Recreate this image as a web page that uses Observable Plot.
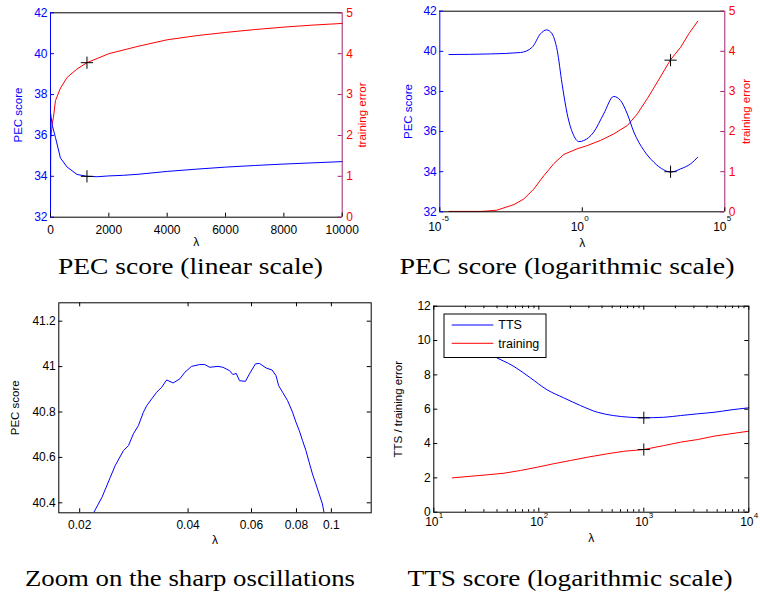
<!DOCTYPE html>
<html><head><meta charset="utf-8">
<script src="https://cdn.jsdelivr.net/npm/d3@7"></script>
<script src="https://cdn.jsdelivr.net/npm/@observablehq/plot@0.6"></script>
<style>
body{margin:0;background:#fff;}
#wrap{position:relative;width:760px;height:593px;overflow:hidden;}
</style></head><body><div id="wrap"></div>
<script>
// ---------------- data ----------------
// Panel 1: PEC score, linear lambda
const linLambdaPEC = [0, 60, 170, 340, 570, 910, 1250, 1600, 2000, 2500, 3000, 4000, 5000, 6000, 7000, 8000, 9000, 10000];
const linPEC       = [37.1, 36.5, 35.9, 34.9, 34.45, 34.09, 34.0, 33.98, 34.02, 34.05, 34.1, 34.24, 34.35, 34.45, 34.53, 34.6, 34.66, 34.72];
const linLambdaErr = [0, 10, 57, 100, 170, 343, 571, 900, 1250, 2000, 3000, 4000, 5000, 6000, 7000, 8000, 9000, 10000];
const linErr       = [0, 1.9, 2.28, 2.44, 2.85, 3.16, 3.42, 3.62, 3.78, 4.0, 4.18, 4.34, 4.44, 4.52, 4.59, 4.65, 4.7, 4.74];
const linXTicks = [0, 2000, 4000, 6000, 8000, 10000];

// Panel 2: PEC score, log lambda
const logLambdaPEC = [2.1e-5, 6.0e-4, 6.8e-3, 0.0174, 0.0339, 0.0562, 0.0871, 0.132, 0.195, 0.295, 0.501, 0.759, 1.12, 2.51, 5.62, 12.6, 21.9, 38, 64.6, 145, 324, 724, 1250, 2818, 6310, 11220];
const logPEC       = [39.84, 39.87, 39.94, 40.2, 40.87, 41.07, 40.87, 40.04, 38.38, 36.88, 35.8, 35.5, 35.55, 35.97, 36.88, 37.75, 37.55, 36.88, 35.97, 35.06, 34.47, 34.09, 33.98, 34.14, 34.39, 34.72];
const logLambdaErr = [2.1e-5, 3e-4, 1.0e-3, 4.0e-3, 8.9e-3, 0.02, 0.0447, 0.1, 0.224, 0.661, 1.48, 4.37, 12.6, 38, 85.1, 190.5, 426.6, 1250, 2818, 5495, 11220];
const logErr       = [0.01, 0.01, 0.04, 0.18, 0.32, 0.57, 0.9, 1.2, 1.43, 1.57, 1.65, 1.78, 1.94, 2.15, 2.44, 2.82, 3.23, 3.79, 4.1, 4.44, 4.75];
const logXTicks = [1e-5, 1, 1e5];
const logXExp   = ["-5", "0", "5"];

// Best lambda markers
const bestLambda = 1250;
const bestPEC = 34.0;
const bestErr = 3.78;

// Shared PEC / training error axes
const pecDomain = [32, 42];
const pecTicks = [32, 34, 36, 38, 40, 42];
const errDomain = [0, 5];
const errTicks = [0, 1, 2, 3, 4, 5];

// Panel 3: zoom on oscillations
const zoomLambda = [0.02186, 0.02306, 0.02432, 0.0251, 0.02646, 0.02732, 0.0282, 0.02911, 0.03006, 0.03071, 0.0317, 0.03272, 0.03378, 0.03488, 0.03636, 0.03795, 0.03918, 0.0409, 0.0431, 0.0445, 0.04592, 0.04842, 0.04998, 0.05216, 0.05326, 0.05442, 0.05558, 0.05774, 0.05924, 0.06154, 0.06312, 0.06588, 0.06844, 0.0702, 0.07138, 0.0732, 0.07558, 0.07802, 0.07974, 0.08144, 0.08316, 0.08498, 0.08678, 0.08862, 0.09056, 0.09248, 0.09442, 0.09544];
const zoomPEC    = [40.356, 40.424, 40.512, 40.564, 40.63, 40.652, 40.704, 40.74, 40.799, 40.828, 40.858, 40.887, 40.909, 40.941, 40.928, 40.946, 40.975, 41.001, 41.009, 41.009, 40.997, 41.001, 40.997, 40.982, 40.965, 40.97, 40.938, 40.935, 40.968, 41.012, 41.014, 40.994, 40.985, 40.96, 40.916, 40.887, 40.85, 40.799, 40.755, 40.718, 40.674, 40.63, 40.578, 40.527, 40.483, 40.439, 40.395, 40.356];
const zoomXDomain = [0.0175, 0.129];
const zoomYDomain = [40.356, 41.281];
const zoomXTicks = [0.02, 0.04, 0.06, 0.08, 0.1];
const zoomYTicks = [40.4, 40.6, 40.8, 41, 41.2];

// Panel 4: TTS score
const ttsLambda = [15, 25, 36, 58, 83, 120, 173, 250, 363, 513, 741, 1000, 1549, 2239, 3236, 4677, 6761, 10000];
const ttsScore  = [10.5, 9.7, 9.13, 8.49, 7.83, 7.13, 6.66, 6.21, 5.82, 5.63, 5.53, 5.5, 5.53, 5.63, 5.73, 5.82, 5.96, 6.08];
const trLambda  = [15, 27.5, 46.5, 66.8, 96.4, 138, 200, 288, 447, 646, 1000, 1549, 2239, 3236, 4677, 6761, 10000];
const trError   = [2.0, 2.14, 2.27, 2.43, 2.62, 2.82, 3.01, 3.2, 3.4, 3.55, 3.65, 3.88, 4.08, 4.23, 4.43, 4.57, 4.72];
const ttsBestLambda = 1000;
const ttsBest = 5.5;
const trBest = 3.65;
const ttsXTicks = [10, 100, 1000, 10000];
const ttsXExp = ["1", "2", "3", "4"];
const ttsYTicks = [0, 2, 4, 6, 8, 10, 12];
const legendNames = ["TTS", "training"];

const captions = ["PEC score (linear scale)", "PEC score (logarithmic scale)", "Zoom on the sharp oscillations", "TTS score (logarithmic scale)"];

// ---------------- drawing ----------------
const blue = "#0000ff", red = "#ff0000", purple = "#a0206e";
const wrap = document.getElementById("wrap");
const style = {fontFamily: "'Liberation Sans', Arial, sans-serif", fontSize: "12px", background: "transparent", overflow: "visible"};
const zip = (xs, ys) => xs.map((x, i) => ({x, y: ys[i]}));
const errToPec = e => pecDomain[0] + (e - errDomain[0]) * (pecDomain[1] - pecDomain[0]) / (errDomain[1] - errDomain[0]);
const pecToErr = p => errDomain[0] + (p - pecDomain[0]) * (errDomain[1] - errDomain[0]) / (pecDomain[1] - pecDomain[0]);
function place(el, left, top) { el.style.position = "absolute"; el.style.left = left + "px"; el.style.top = top + "px"; wrap.appendChild(el); }
const TL = 4;
const C = {textAnchor: "middle", lineAnchor: "middle"};
function minorTicks(lo, hi) { const out = []; for (let d = lo; d < hi; d *= 10) for (let k = 2; k <= 9; k++) out.push(d * k); return out; }

// Panel 1
{
  const W = 380, H = 245, mL = 50, mR = 38.3, mT = 12.3, mB = 28.3, iw = W - mL - mR, ih = H - mT - mB;
  const svg = Plot.plot({
    width: W, height: H, marginLeft: mL, marginRight: mR, marginTop: mT, marginBottom: mB, style,
    x: {type: "linear", domain: [0, 10000]},
    y: {domain: pecDomain},
    marks: [
      Plot.line(zip(linLambdaErr, linErr.map(errToPec)), {x: "x", y: "y", stroke: red, strokeWidth: 1}),
      Plot.line(zip(linLambdaPEC, linPEC), {x: "x", y: "y", stroke: blue, strokeWidth: 1}),
      Plot.dot([{x: bestLambda, y: bestPEC}, {x: bestLambda, y: errToPec(bestErr)}], {x: "x", y: "y", symbol: "plus", r: 4, stroke: "black", strokeWidth: 1}),
      Plot.ruleY([pecDomain[1]], {stroke: "black"}),
      Plot.ruleY([pecDomain[0]], {stroke: "black"}),
      Plot.ruleX([0], {stroke: blue}),
      Plot.ruleX([10000], {stroke: purple}),
      Plot.tickY(pecTicks, {y: d => d, stroke: blue, insetRight: iw - TL}),
      Plot.tickY(errTicks.map(errToPec), {y: d => d, stroke: purple, insetLeft: iw - TL}),
      Plot.tickX(linXTicks, {x: d => d, stroke: "black", insetTop: ih - TL}),
      Plot.axisY({ticks: pecTicks, anchor: "left", tickSize: 0, tickPadding: 3, label: null, color: blue, fontSize: 12}),
      Plot.axisY({ticks: errTicks.map(errToPec), anchor: "right", tickSize: 0, tickPadding: 4, label: null, color: red, fontSize: 12, tickFormat: d => String(Math.round(pecToErr(d)))}),
      Plot.axisX({ticks: linXTicks, tickSize: 0, tickPadding: 8, label: null, tickFormat: d => String(d), fontSize: 12}),
      Plot.text(["λ"], {...C, text: d => d, frameAnchor: "bottom", dy: 25.3, fontSize: 12}),
      Plot.text(["PEC score"], {...C, text: d => d, frameAnchor: "left", dx: -32, rotate: -90, fill: blue, fontSize: 11.5}),
      Plot.text(["training error"], {...C, text: d => d, frameAnchor: "right", dx: 20, rotate: -90, fill: red, fontSize: 11.5})
    ]
  });
  place(svg, 0, 0);
}

// Panel 2
{
  const W = 380, H = 245, mL = 59.3, mR = 35.7, mT = 10.7, mB = 33.7, iw = W - mL - mR, ih = H - mT - mB;
  const svg = Plot.plot({
    width: W, height: H, marginLeft: mL, marginRight: mR, marginTop: mT, marginBottom: mB, style,
    x: {type: "log", domain: [1e-5, 1e5], axis: null},
    y: {domain: pecDomain},
    marks: [
      Plot.line(zip(logLambdaErr, logErr.map(errToPec)), {x: "x", y: "y", stroke: red, strokeWidth: 1}),
      Plot.line(zip(logLambdaPEC, logPEC), {x: "x", y: "y", stroke: blue, strokeWidth: 1, curve: "monotone-x"}),
      Plot.dot([{x: bestLambda, y: bestPEC}, {x: bestLambda, y: errToPec(bestErr)}], {x: "x", y: "y", symbol: "plus", r: 4, stroke: "black", strokeWidth: 1}),
      Plot.ruleY([pecDomain[1]], {stroke: "black"}),
      Plot.ruleY([pecDomain[0]], {stroke: "black"}),
      Plot.ruleX([1e-5], {stroke: blue}),
      Plot.ruleX([1e5], {stroke: purple}),
      Plot.tickY(pecTicks, {y: d => d, stroke: blue, insetRight: iw - TL}),
      Plot.tickY(errTicks.map(errToPec), {y: d => d, stroke: purple, insetLeft: iw - TL}),
      Plot.tickX(logXTicks, {x: d => d, stroke: "black", insetTop: ih - TL}),
      Plot.axisY({ticks: pecTicks, anchor: "left", tickSize: 0, tickPadding: 3, label: null, color: blue, fontSize: 12}),
      Plot.axisY({ticks: errTicks.map(errToPec), anchor: "right", tickSize: 0, tickPadding: 4, label: null, color: red, fontSize: 12, tickFormat: d => String(Math.round(pecToErr(d)))}),
      Plot.text(logXTicks, {...C, x: d => d, text: () => "10", frameAnchor: "bottom", dy: 15.5, dx: -5, fontSize: 12}),
      Plot.text(logXTicks, {x: d => d, text: (d, i) => logXExp[i], frameAnchor: "bottom", dy: 7, dx: 2, textAnchor: "start", lineAnchor: "middle", fontSize: 8}),
      Plot.text(["λ"], {...C, text: d => d, frameAnchor: "bottom", dy: 31.7, fontSize: 12}),
      Plot.text(["PEC score"], {...C, text: d => d, frameAnchor: "left", dx: -31, rotate: -90, fill: blue, fontSize: 11.5}),
      Plot.text(["training error"], {...C, text: d => d, frameAnchor: "right", dx: 22, rotate: -90, fill: red, fontSize: 11.5})
    ]
  });
  place(svg, 380, 0);
}

// Panel 3
{
  const W = 380, H = 260, mL = 58.3, mR = 9.3, mT = 12.3, mB = 37.7, iw = W - mL - mR, ih = H - mT - mB;
  const svg = Plot.plot({
    width: W, height: H, marginLeft: mL, marginRight: mR, marginTop: mT, marginBottom: mB, style,
    x: {type: "log", domain: zoomXDomain},
    y: {domain: zoomYDomain},
    marks: [
      Plot.line(zip(zoomLambda, zoomPEC), {x: "x", y: "y", stroke: blue, strokeWidth: 1, clip: true}),
      Plot.frame({stroke: "black"}),
      Plot.tickY(zoomYTicks, {y: d => d, stroke: "black", insetRight: iw - TL}),
      Plot.tickY(zoomYTicks, {y: d => d, stroke: "black", insetLeft: iw - TL}),
      Plot.tickX(zoomXTicks, {x: d => d, stroke: "black", insetTop: ih - TL}),
      Plot.tickX(zoomXTicks, {x: d => d, stroke: "black", insetBottom: ih - TL}),
      Plot.axisY({ticks: zoomYTicks, anchor: "left", tickSize: 0, tickPadding: 3, label: null, fontSize: 12, tickFormat: d => String(d)}),
      Plot.axisX({ticks: zoomXTicks, tickSize: 0, tickPadding: 8, label: null, fontSize: 12, tickFormat: d => String(d)}),
      Plot.text(["λ"], {...C, text: d => d, frameAnchor: "bottom", dy: 27.7, fontSize: 12}),
      Plot.text(["PEC score"], {...C, text: d => d, frameAnchor: "left", dx: -43, rotate: -90, fontSize: 11.5})
    ]
  });
  place(svg, 0, 290);
}

// Panel 4
{
  const W = 380, H = 260, mL = 53.3, mR = 11.7, mT = 15.7, mB = 38.3, iw = W - mL - mR, ih = H - mT - mB;
  const minors = minorTicks(10, 10000);
  const legend = (index, scales, values, dims) => {
    const g = d3.create("svg:g");
    const x0 = dims.marginLeft + 10.7, y0 = dims.marginTop + 8.3;
    g.append("rect").attr("x", x0).attr("y", y0).attr("width", 102).attr("height", 43.5)
      .attr("fill", "white").attr("stroke", "black");
    [blue, red].forEach((c, i) => {
      const yy = y0 + 11 + i * 18.3;
      g.append("line").attr("x1", x0 + 7.7).attr("x2", x0 + 49.3).attr("y1", yy).attr("y2", yy).attr("stroke", c);
      g.append("text").attr("x", x0 + 54.3).attr("y", yy).attr("dy", "0.35em")
        .attr("text-anchor", "start").attr("font-size", 12.5).attr("fill", "black").text(legendNames[i]);
    });
    return g.node();
  };
  const svg = Plot.plot({
    width: W, height: H, marginLeft: mL, marginRight: mR, marginTop: mT, marginBottom: mB, style,
    x: {type: "log", domain: [10, 10000], axis: null},
    y: {domain: [0, 12]},
    marks: [
      Plot.line(zip(trLambda, trError), {x: "x", y: "y", stroke: red, strokeWidth: 1}),
      Plot.line(zip(ttsLambda, ttsScore), {x: "x", y: "y", stroke: blue, strokeWidth: 1, curve: "monotone-x"}),
      Plot.dot([{x: ttsBestLambda, y: ttsBest}, {x: ttsBestLambda, y: trBest}], {x: "x", y: "y", symbol: "plus", r: 4, stroke: "black", strokeWidth: 1}),
      Plot.frame({stroke: "black"}),
      Plot.tickY(ttsYTicks, {y: d => d, stroke: "black", insetRight: iw - TL}),
      Plot.tickY(ttsYTicks, {y: d => d, stroke: "black", insetLeft: iw - TL}),
      Plot.tickX(ttsXTicks, {x: d => d, stroke: "black", insetTop: ih - TL}),
      Plot.tickX(ttsXTicks, {x: d => d, stroke: "black", insetBottom: ih - TL}),
      Plot.tickX(minors, {x: d => d, stroke: "black", insetTop: ih - 2.5}),
      Plot.tickX(minors, {x: d => d, stroke: "black", insetBottom: ih - 2.5}),
      Plot.axisY({ticks: ttsYTicks, anchor: "left", tickSize: 0, tickPadding: 3, label: null, fontSize: 12}),
      Plot.text(ttsXTicks, {...C, x: d => d, text: () => "10", frameAnchor: "bottom", dy: 10, dx: -2, fontSize: 12}),
      Plot.text(ttsXTicks, {x: d => d, text: (d, i) => ttsXExp[i], frameAnchor: "bottom", dy: 3, dx: 5, textAnchor: "start", lineAnchor: "middle", fontSize: 8}),
      Plot.text(["λ"], {...C, text: d => d, frameAnchor: "bottom", dy: 26.3, fontSize: 12}),
      Plot.text(["TTS / training error"], {...C, text: d => d, frameAnchor: "left", dx: -35, rotate: -90, fontSize: 11.5}),
      legend
    ]
  });
  place(svg, 380, 290);
}

// Captions (below each chart)
const capPos = [[190.5, 266, 265], [567, 266, 335], [190, 578, 330], [570, 578, 325]];
const ns = "http://www.w3.org/2000/svg";
const capSvg = document.createElementNS(ns, "svg");
capSvg.setAttribute("width", 760); capSvg.setAttribute("height", 593);
capSvg.style.position = "absolute"; capSvg.style.left = "0px"; capSvg.style.top = "0px"; capSvg.style.pointerEvents = "none";
captions.forEach((t, i) => {
  const tx = document.createElementNS(ns, "text");
  tx.setAttribute("x", capPos[i][0] - capPos[i][2] / 2);
  tx.setAttribute("y", capPos[i][1]);
  tx.setAttribute("dy", "0.35em");
  tx.setAttribute("textLength", capPos[i][2]);
  tx.setAttribute("lengthAdjust", "spacingAndGlyphs");
  tx.setAttribute("font-family", "'Liberation Serif', 'Times New Roman', serif");
  tx.setAttribute("font-size", "23");
  tx.textContent = t;
  capSvg.appendChild(tx);
});
wrap.appendChild(capSvg);
</script>
</body></html>
